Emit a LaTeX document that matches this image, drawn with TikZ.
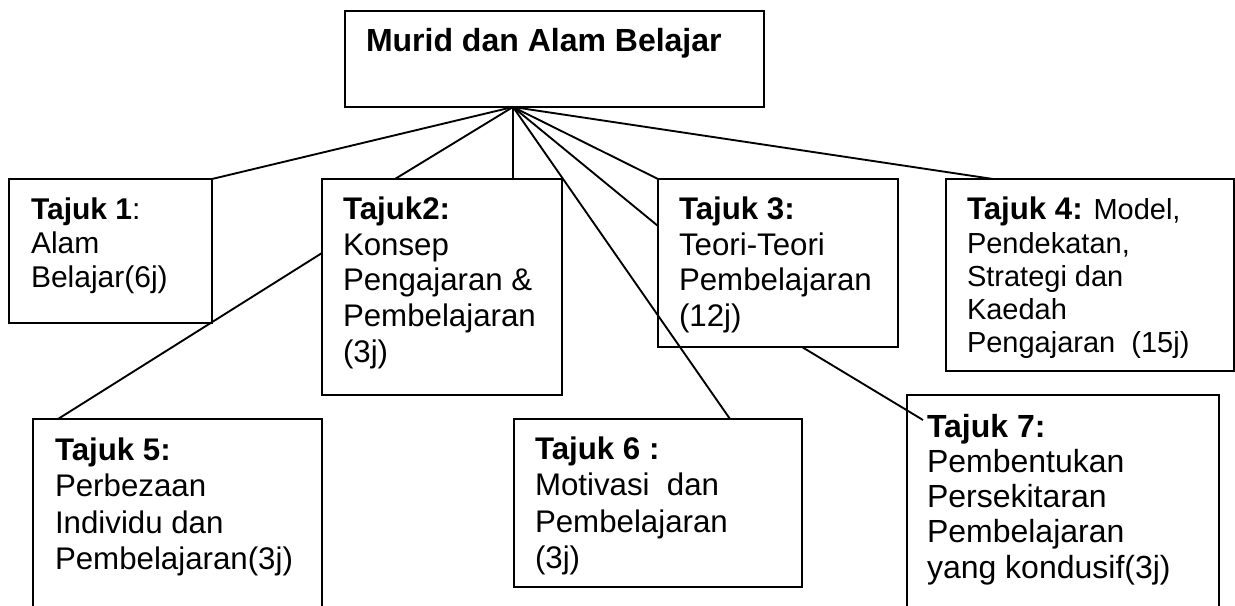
\documentclass[tikz,border=0pt]{standalone}
\usepackage{fontspec}
\setmainfont{Liberation Sans}
\usetikzlibrary{fit,calc}
\begin{document}
\begin{tikzpicture}[x=0.4pt,y=-0.4pt,
  box/.style={draw, line width=1pt, inner sep=0pt, outer sep=0pt},
  txt/.style={inner sep=0pt, outer sep=0pt, align=left, anchor=base west},
  link/.style={line width=0.75pt},
  body/.style={font=\fontsize{12.5}{14.2}\selectfont}]
\useasboundingbox (0,0) rectangle (1235,606);
% boxes
\node[box, fit={(345,11)(764,107)}] (top) {};
\node[box, fit={(9,179)(212,323)}] (b1) {};
\node[box, fit={(322,179)(562,395)}] (b2) {};
\node[box, fit={(658,179)(898,347)}] (b3) {};
\node[box, fit={(946,179)(1234,371)}] (b4) {};
\node[box, fit={(33,419)(322,650)}] (b5) {};
\node[box, fit={(514,419)(802,587)}] (b6) {};
\node[box, fit={(907,395)(1219,650)}] (b7) {};
% texts (anchored at the baseline of their last line)
\node[txt, font=\fontsize{12.8}{15}\selectfont\bfseries] (t0) at (366,52) {Murid dan Alam Belajar};
\node[txt, font=\fontsize{12}{13.6}\selectfont] (t1) at (31,288) {\textbf{Tajuk 1}:\\Alam\\Belajar(6j)};
\node[txt, body] (t2) at (343,362) {\textbf{Tajuk2:}\\Konsep\\Pengajaran \&\\Pembelajaran\\(3j)};
\node[txt, body] (t3) at (679,326.5) {\textbf{Tajuk 3:}\\Teori-Teori\\Pembelajaran\\(12j)};
\node[txt, font=\fontsize{11.6}{13.3}\selectfont] (t4) at (967,353) {{\fontsize{12.5}{13.3}\selectfont\bfseries Tajuk 4:} Model,\\Pendekatan,\\Strategi dan\\Kaedah\\Pengajaran\ \ (15j)};
\node[txt, font=\fontsize{12.5}{14.6}\selectfont] (t5) at (55,569.5) {\textbf{Tajuk 5:}\\Perbezaan\\Individu dan\\Pembelajaran(3j)};
\node[txt, font=\fontsize{12.5}{14.6}\selectfont] (t6) at (535,568.5) {\textbf{Tajuk 6 :}\\Motivasi\ \ dan\\Pembelajaran\\(3j)};
\node[txt, font=\fontsize{12.8}{14.1}\selectfont] (t7) at (927,578) {\textbf{Tajuk 7:}\\Pembentukan\\Persekitaran\\Pembelajaran\\yang kondusif(3j)};
% connectors
\coordinate (apex) at ($(top.south west)+(168,0)$);
\coordinate (c7) at ($(b7.north west)+(16,25)$);
\draw[link] (apex) -- (b1.north east);
\draw[link] (apex) -- ($(b2.north west)+(73,0)$);
\draw[link] (apex) -- ($(b2.north west)+(191,0)$);
\draw[link] (apex) -- ($(b6.north west)+(216,0)$);
\draw[link] (apex) -- ($(b3.north west)+(0,47)$);
\draw[link] (apex) -- (b3.north west);
\draw[link] (apex) -- ($(b4.north west)+(47,0)$);
\draw[link] ($(b5.north west)+(25,0)$) -- ($(b2.north west)+(0,74)$);
\draw[link] ($(b3.south west)+(144,0)$) -- (c7);
\end{tikzpicture}
\end{document}
